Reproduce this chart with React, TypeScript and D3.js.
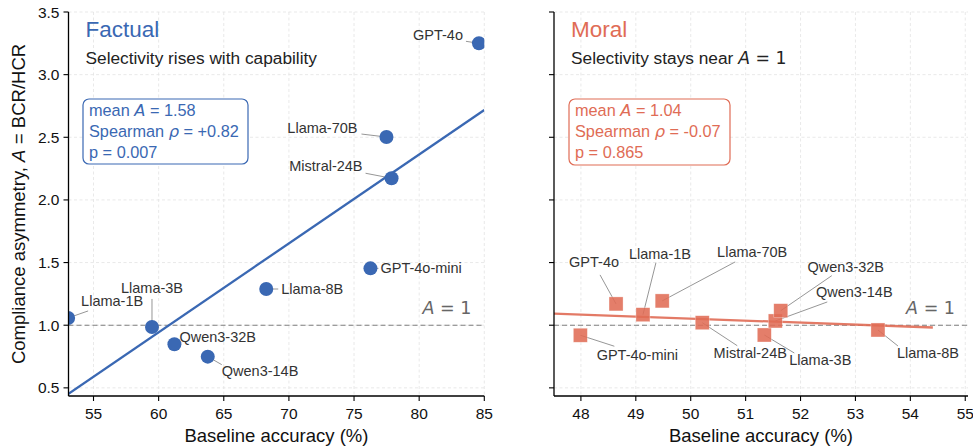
import React from "react";
import * as d3 from "d3";

// ---------- data ----------
const models = ["GPT-4o", "GPT-4o-mini", "Llama-1B", "Llama-3B", "Llama-8B", "Llama-70B", "Mistral-24B", "Qwen3-14B", "Qwen3-32B"];
const factualAcc = [84.59, 76.26, 53.05, 59.49, 68.26, 77.49, 77.88, 63.77, 61.21];
const factualA = [3.25, 1.454, 1.058, 0.986, 1.289, 2.502, 2.173, 0.749, 0.848];
const moralAcc = [48.64, 47.99, 49.13, 51.34, 53.41, 49.48, 50.21, 51.54, 51.64];
const moralA = [1.17, 0.92, 1.084, 0.922, 0.962, 1.194, 1.02, 1.034, 1.116];
const yTicks = [0.5, 1.0, 1.5, 2.0, 2.5, 3.0, 3.5];
const factualXTicks = [55, 60, 65, 70, 75, 80, 85];
const moralXTicks = [48, 49, 50, 51, 52, 53, 54, 55];
const factualStats = ["1.58", "+0.82", "0.007"];
const moralStats = ["1.04", "-0.07", "0.865"];

// ---------- label placement (pixel offsets from marker) ----------
type Lab = { dx: number; dy: number; anchor: string; lx: number; ly: number; line: boolean };
const factualLabels: Record<string, Lab> = {
  "GPT-4o": { dx: -16, dy: -3, anchor: "end", lx: -13, ly: -2, line: true },
  "Llama-70B": { dx: -29, dy: -4, anchor: "end", lx: -25, ly: -3, line: true },
  "Mistral-24B": { dx: -29, dy: -7, anchor: "end", lx: -26, ly: -5, line: true },
  "GPT-4o-mini": { dx: 10, dy: 5, anchor: "start", lx: 8, ly: 0, line: true },
  "Llama-8B": { dx: 15, dy: 5, anchor: "start", lx: 12, ly: 0, line: true },
  "Llama-3B": { dx: 0, dy: -34, anchor: "middle", lx: 0, ly: -28, line: true },
  "Llama-1B": { dx: 13, dy: -12, anchor: "start", lx: 20, ly: -7, line: true },
  "Qwen3-32B": { dx: 5, dy: -2, anchor: "start", lx: 0, ly: 0, line: false },
  "Qwen3-14B": { dx: 14, dy: 19, anchor: "start", lx: 14, ly: 8, line: true },
};
const moralLabels: Record<string, Lab> = {
  "GPT-4o": { dx: -22, dy: -37, anchor: "middle", lx: -16, ly: -29, line: true },
  "Llama-1B": { dx: 17, dy: -56, anchor: "middle", lx: 13, ly: -52, line: true },
  "Llama-70B": { dx: 90, dy: -44, anchor: "middle", lx: 73, ly: -39, line: true },
  "Qwen3-32B": { dx: 65, dy: -39, anchor: "middle", lx: 51, ly: -35, line: true },
  "Qwen3-14B": { dx: 79, dy: -24, anchor: "middle", lx: 52, ly: -19, line: true },
  "GPT-4o-mini": { dx: 57, dy: 25, anchor: "middle", lx: 34, ly: 11, line: true },
  "Mistral-24B": { dx: 48, dy: 35, anchor: "middle", lx: 35, ly: 23, line: true },
  "Llama-3B": { dx: 56, dy: 30, anchor: "middle", lx: 30, ly: 18, line: true },
  "Llama-8B": { dx: 50, dy: 28, anchor: "middle", lx: 20, ly: 16, line: true },
};

const FONT = "'Liberation Sans', Arial, Helvetica, sans-serif";
const MATH = "'DejaVu Sans', sans-serif";
const BLUE = "#3a68b3";
const RED = "#e06c55";

const TOP = 12;
const BOTTOM = 396;
const yScale = d3.scaleLinear().domain([0.435, 3.5]).range([BOTTOM, TOP]);

function fit(xs: number[], ys: number[]) {
  const mx = d3.mean(xs)!;
  const my = d3.mean(ys)!;
  let sxy = 0, sxx = 0;
  xs.forEach((x, i) => { sxy += (x - mx) * (ys[i] - my); sxx += (x - mx) ** 2; });
  const b = sxy / sxx;
  return { b, a: my - b * mx };
}

function Panel(props: {
  id: string; left: number; right: number; xDomain: [number, number]; xTicks: number[];
  xs: number[]; ys: number[]; color: string; shape: "circle" | "square";
  title: string; subtitle: React.ReactNode; stats: string[]; labels: Record<string, Lab>;
  showYLabels: boolean; box: [number, number, number, number];
}) {
  const { id, left, right, xDomain, xTicks, xs, ys, color, shape, title, subtitle, stats, labels, showYLabels, box } = props;
  const x = d3.scaleLinear().domain(xDomain).range([left, right]);
  const { a, b } = fit(xs, ys);
  const x0 = Math.max(xDomain[0], d3.min(xs)! - 1);
  const x1 = Math.min(xDomain[1], d3.max(xs)! + 1);
  const line = d3.line<number>().x((v) => x(v)).y((v) => yScale(a + b * v));
  const grid = "#e3e3e3";
  return (
    <g>
      <defs>
        <clipPath id={`clip-${id}`}>
          <rect x={left} y={TOP} width={right - left} height={BOTTOM - TOP} />
        </clipPath>
      </defs>
      {/* grid */}
      {xTicks.map((t) => (
        <line key={`gx${t}`} x1={x(t)} x2={x(t)} y1={TOP} y2={BOTTOM} stroke={grid} strokeWidth={0.8} strokeDasharray="3,2.5" />
      ))}
      {yTicks.map((t) => (
        <line key={`gy${t}`} x1={left} x2={right} y1={yScale(t)} y2={yScale(t)} stroke={grid} strokeWidth={0.8} strokeDasharray="3,2.5" />
      ))}
      {/* reference line A=1 */}
      <line x1={left} x2={right} y1={yScale(1)} y2={yScale(1)} stroke="#808080" strokeWidth={1.1} strokeDasharray="5,3" />
      <text x={right - 13} y={yScale(1) - 11} textAnchor="end" fill="#666" fontSize={17.5} fontFamily={MATH}>
        <tspan fontStyle="italic">A</tspan>
        <tspan> = 1</tspan>
      </text>
      {/* leader lines */}
      {models.map((m, i) => {
        const L = labels[m];
        if (!L.line) return null;
        const px = x(xs[i]), py = yScale(ys[i]);
        return <line key={`ll${m}`} x1={px + L.lx} y1={py + L.ly} x2={px} y2={py} stroke="#8a8a8a" strokeWidth={0.9} />;
      })}
      {/* regression */}
      <g clipPath={`url(#clip-${id})`}>
        <path d={line([x0, x1]) || ""} fill="none" stroke={color} strokeWidth={2.3} opacity={shape === "square" ? 0.9 : 1} />
        {models.map((m, i) => {
          const px = x(xs[i]), py = yScale(ys[i]);
          return shape === "circle" ? (
            <circle key={`pt${m}`} cx={px} cy={py} r={7} fill={color} />
          ) : (
            <rect key={`pt${m}`} x={px - 7} y={py - 7} width={14} height={14} fill={color} fillOpacity={0.88} stroke="#fff" strokeOpacity={0.5} strokeWidth={0.6} />
          );
        })}
      </g>
      {/* point labels */}
      {models.map((m, i) => {
        const L = labels[m];
        const px = x(xs[i]), py = yScale(ys[i]);
        return (
          <text key={`lb${m}`} x={px + L.dx} y={py + L.dy} textAnchor={L.anchor} fontSize={14.5} fill="#333" fontFamily={FONT}>{m}</text>
        );
      })}
      {/* axes */}
      <line x1={left} x2={left} y1={TOP} y2={BOTTOM} stroke="#000" strokeWidth={1.3} />
      <line x1={left} x2={right} y1={BOTTOM} y2={BOTTOM} stroke="#000" strokeWidth={1.3} />
      {yTicks.map((t) => (
        <g key={`yt${t}`}>
          <line x1={left - 5} x2={left} y1={yScale(t)} y2={yScale(t)} stroke="#000" strokeWidth={1.1} />
          {showYLabels && (
            <text x={left - 9} y={yScale(t) + 5.5} textAnchor="end" fontSize={15.5} fill="#111" fontFamily={FONT}>{t.toFixed(1)}</text>
          )}
        </g>
      ))}
      {xTicks.map((t) => (
        <g key={`xt${t}`}>
          <line x1={x(t)} x2={x(t)} y1={BOTTOM} y2={BOTTOM + 5} stroke="#000" strokeWidth={1.1} />
          <text x={x(t)} y={BOTTOM + 23} textAnchor="middle" fontSize={15.5} fill="#111" fontFamily={FONT}>{t}</text>
        </g>
      ))}
      <text x={(left + right) / 2} y={442} textAnchor="middle" fontSize={18.5} fill="#111" fontFamily={FONT}>Baseline accuracy (%)</text>
      {/* titles */}
      <text x={left + 17} y={37} fontSize={22.5} fill={color} fontFamily={FONT}>{title}</text>
      <text x={left + 17} y={64} fontSize={17.3} fill="#222" fontFamily={FONT}>{subtitle}</text>
      {/* stats box */}
      <rect x={box[0]} y={box[1]} width={box[2]} height={box[3]} rx={6} fill="#fff" stroke={color} strokeWidth={1.2} />
      <text x={box[0] + 6} y={box[1] + 17} fontSize={16.3} fill={color} fontFamily={FONT}>
        mean <tspan fontFamily={MATH} fontStyle="italic">A</tspan> = {stats[0]}
      </text>
      <text x={box[0] + 6} y={box[1] + 38} fontSize={16.3} fill={color} fontFamily={FONT}>
        Spearman <tspan fontFamily={MATH} fontStyle="italic">ρ</tspan> = {stats[1]}
      </text>
      <text x={box[0] + 6} y={box[1] + 58.5} fontSize={16.3} fill={color} fontFamily={FONT}>p = {stats[2]}</text>
    </g>
  );
}

export default function App() {
  return (
    <svg width={973} height={448} style={{ position: "absolute", left: 0, top: 0, background: "#fff" }}>
      <rect width={973} height={448} fill="#fff" />
      <text transform={`translate(25,${(TOP + BOTTOM) / 2}) rotate(-90)`} textAnchor="middle" fontSize={18.5} fill="#111" fontFamily={FONT}>
        Compliance asymmetry, <tspan fontFamily={MATH} fontStyle="italic">A</tspan> = BCR/HCR
      </text>
      <Panel id="fact" left={68.5} right={484.3} xDomain={[53.08, 85]} xTicks={factualXTicks}
        xs={factualAcc} ys={factualA} color={BLUE} shape="circle" title="Factual"
        subtitle="Selectivity rises with capability" stats={factualStats} labels={factualLabels}
        showYLabels={true} box={[83, 99, 165, 65]} />
      <Panel id="moral" left={554} right={968} xDomain={[47.51, 55.05]} xTicks={moralXTicks}
        xs={moralAcc} ys={moralA} color={RED} shape="square" title="Moral"
        subtitle={<>Selectivity stays near <tspan fontFamily={MATH} fontStyle="italic">A</tspan><tspan fontFamily={MATH}> = 1</tspan></>}
        stats={moralStats} labels={moralLabels} showYLabels={false} box={[569, 99, 161, 66]} />
    </svg>
  );
}
